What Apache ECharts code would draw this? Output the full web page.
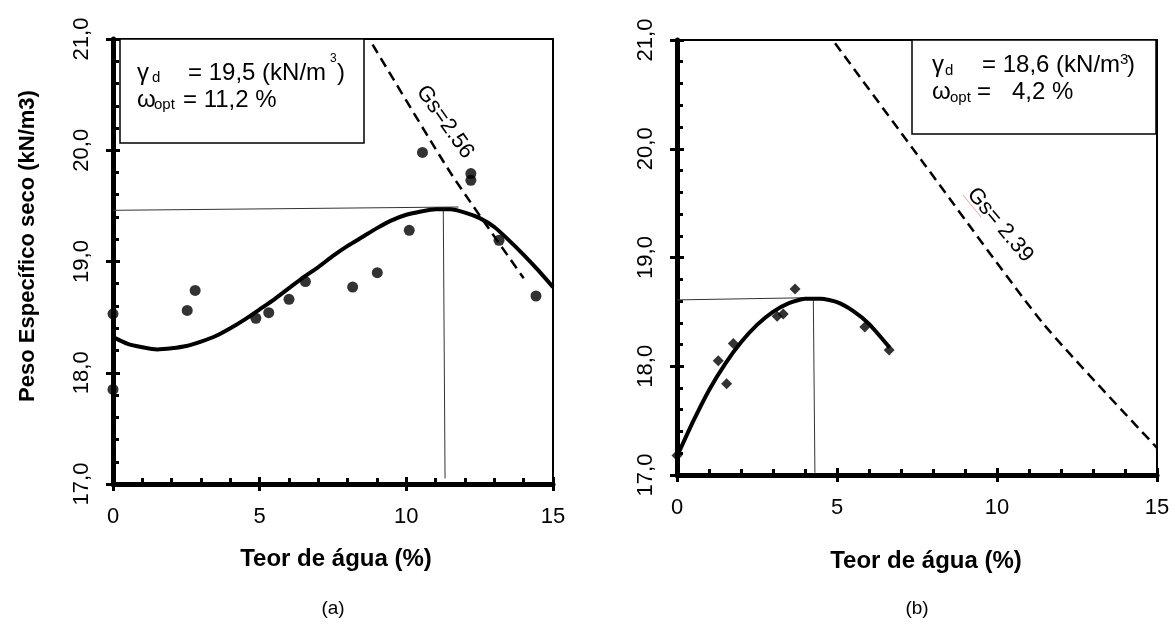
<!DOCTYPE html>
<html><head><meta charset="utf-8">
<script src="https://cdn.jsdelivr.net/npm/echarts@6/dist/echarts.min.js"></script>
<style>html,body{margin:0;padding:0;background:#fff}#c{width:1174px;height:632px}</style>
</head><body><div id="c"></div>
<script>
// ---- tick labels ----
const xTickLabels = ['0', '5', '10', '15'];
const yTickLabels = ['17,0', '18,0', '19,0', '20,0', '21,0'];

// ---- (a) ----
const ptsA_w  = [0, 0, 2.53, 2.80, 4.87, 5.31, 6.00, 6.56, 8.17, 9.01, 10.10, 10.55, 12.20, 12.20, 13.16, 14.42];
const ptsA_gd = [18.53, 17.85, 18.56, 18.74, 18.49, 18.54, 18.66, 18.82, 18.77, 18.90, 19.28, 19.98, 19.79, 19.73, 19.19, 18.69];
const curveA_w  = [0, 0.5, 1, 1.5, 2, 2.5, 3, 3.5, 4, 4.5, 5, 5.5, 6, 6.5, 7, 7.5, 8, 8.5, 9, 9.5, 10, 10.5, 11, 11.5, 12, 12.5, 13, 13.5, 14, 14.5, 15];
const curveA_gd = [18.32, 18.26, 18.23, 18.21, 18.22, 18.24, 18.28, 18.33, 18.40, 18.48, 18.57, 18.66, 18.76, 18.86, 18.95, 19.05, 19.14, 19.22, 19.30, 19.37, 19.42, 19.45, 19.47, 19.47, 19.44, 19.39, 19.31, 19.19, 19.06, 18.92, 18.77];
const gsA_w  = [8.85, 11.5, 14.0];
const gsA_gd = [20.95, 19.80, 18.85];
const hA_w = [0, 11.78], hA_gd = [19.46, 19.49];
const vA_w = [11.26, 11.32], vA_gd = [19.47, 17.05];

// ---- (b) ----
const ptsB_w  = [0, 1.29, 1.55, 1.76, 3.13, 3.32, 3.69, 5.87, 6.63];
const ptsB_gd = [17.18, 18.05, 17.84, 18.21, 18.46, 18.48, 18.71, 18.36, 18.15];
const curveB_w  = [0, 0.5, 1, 1.5, 2, 2.5, 3, 3.5, 4, 4.5, 5, 5.5, 6, 6.65];
const curveB_gd = [17.17, 17.49, 17.78, 18.02, 18.22, 18.38, 18.50, 18.58, 18.62, 18.62, 18.59, 18.51, 18.39, 18.17];
const gsB_w  = [4.94, 7.70, 11.45, 15.0];
const gsB_gd = [20.97, 19.87, 18.39, 17.25];
const hB_w = [0, 4.05], hB_gd = [18.61, 18.63];
const vB_w = [4.26, 4.31], vB_gd = [18.63, 17.02];

const FONT = '"Liberation Sans", Arial, sans-serif';
const pairs = (xs, ys) => xs.map((x, i) => [x, ys[i]]);
const tickStyle = { color: '#000', width: 3 };

function mainX(g) {
  return { type: 'value', gridIndex: g, min: 0, max: 15, interval: 5, position: 'bottom',
    axisLine: { show: true, onZero: false, lineStyle: { color: '#000', width: 5 } },
    axisTick: { show: true, inside: true, length: 7, lineStyle: tickStyle },
    minorTick: { show: true, splitNumber: 5, length: 6, lineStyle: tickStyle },
    splitLine: { show: false }, minorSplitLine: { show: false },
    axisLabel: { margin: 22, fontSize: 22, fontFamily: FONT, color: '#000',
      formatter: v => xTickLabels[Math.round(v / 5)] } };
}
function overX(g) {
  return { type: 'value', gridIndex: g, min: 0, max: 15, interval: 5, position: 'bottom',
    axisLine: { show: false }, axisTick: { show: true, inside: false, length: 7, lineStyle: tickStyle },
    axisLabel: { show: false }, splitLine: { show: false } };
}
function mainY(g) {
  return { type: 'value', gridIndex: g, min: 17, max: 21, interval: 1, position: 'left',
    axisLine: { show: true, onZero: false, lineStyle: { color: '#000', width: 5 } },
    axisTick: { show: true, inside: true, length: 7, lineStyle: tickStyle },
    minorTick: { show: true, splitNumber: 5, length: 6, lineStyle: tickStyle },
    splitLine: { show: false }, minorSplitLine: { show: false },
    axisLabel: { margin: 20, rotate: 90, fontSize: 22, fontFamily: FONT, color: '#000',
      formatter: v => yTickLabels[Math.round(v - 17)] } };
}
function overY(g) {
  return { type: 'value', gridIndex: g, min: 17, max: 21, interval: 1, position: 'left',
    axisLine: { show: false }, axisTick: { show: true, inside: false, length: 7, lineStyle: tickStyle },
    axisLabel: { show: false }, splitLine: { show: false } };
}

function lineSeries(ax, xs, ys, style, smooth) {
  return { type: 'line', xAxisIndex: ax, yAxisIndex: ax, data: pairs(xs, ys), symbol: 'none',
    smooth: smooth ? 0.2 : false, lineStyle: style, silent: true, clip: true };
}

function txt(x, y, text, font, opts) {
  opts = opts || {};
  return { type: 'text', x: x, y: y, rotation: opts.rotation || 0, z: 100,
    style: { text: text, font: font, fill: opts.fill || '#000',
      textAlign: opts.align || 'left', align: opts.align || 'left',
      textVerticalAlign: 'middle', verticalAlign: 'middle' } };
}
const F24 = '24px ' + FONT, F15 = '15px ' + FONT, F12 = '12px ' + FONT;

const option = {
  animation: false,
  backgroundColor: '#fff',
  grid: [
    { left: 113, top: 39, width: 440, height: 445, show: true, borderColor: '#000', borderWidth: 2, backgroundColor: 'transparent' },
    { left: 677, top: 40, width: 480, height: 435, show: true, borderColor: '#000', borderWidth: 2, backgroundColor: 'transparent' }
  ],
  xAxis: [mainX(0), overX(0), mainX(1), overX(1)],
  yAxis: [mainY(0), overY(0), mainY(1), overY(1)],
  series: [
    lineSeries(0, hA_w, hA_gd, { color: '#333', width: 1 }),
    lineSeries(0, vA_w, vA_gd, { color: '#333', width: 1 }),
    lineSeries(0, gsA_w, gsA_gd, { color: '#000', width: 2.5, type: [10, 6] }, true),
    lineSeries(0, curveA_w, curveA_gd, { color: '#000', width: 4 }, true),
    { type: 'scatter', xAxisIndex: 0, yAxisIndex: 0, data: pairs(ptsA_w, ptsA_gd), symbol: 'circle',
      symbolSize: 11, itemStyle: { color: '#000' }, silent: true, clip: false },

    lineSeries(2, hB_w, hB_gd, { color: '#333', width: 1 }),
    lineSeries(2, vB_w, vB_gd, { color: '#333', width: 1 }),
    lineSeries(2, gsB_w, gsB_gd, { color: '#000', width: 2.5, type: [10, 6] }, true),
    lineSeries(2, curveB_w, curveB_gd, { color: '#000', width: 4 }, true),
    { type: 'scatter', xAxisIndex: 2, yAxisIndex: 2, data: pairs(ptsB_w, ptsB_gd), symbol: 'diamond',
      symbolSize: 11, itemStyle: { color: '#000' }, silent: true, clip: false }
  ],
  graphic: [
    // legend boxes
    { type: 'rect', z: 90, shape: { x: 120, y: 39, width: 244, height: 104 },
      style: { fill: '#fff', stroke: '#000', lineWidth: 1.5 } },
    { type: 'rect', z: 90, shape: { x: 912, y: 40, width: 244, height: 94 },
      style: { fill: '#fff', stroke: '#000', lineWidth: 1.5 } },
    // box (a)
    txt(137, 73, 'γ', F24),
    txt(152, 78, 'd', F15),
    txt(188, 73, '= 19,5 (kN/m', F24),
    txt(330, 59, '3', F12),
    txt(337, 73, ')', F24),
    txt(137, 100, 'ω', F24),
    txt(154, 105, 'opt', F15),
    txt(183, 100, '= 11,2 %', F24),
    // box (b)
    txt(932, 65, 'γ', F24),
    txt(945, 71, 'd', F15),
    txt(982, 65, '= 18,6 (kN/m', F24),
    txt(1120, 60, '3', '15px ' + FONT),
    txt(1127, 65, ')', F24),
    txt(932, 92, 'ω', F24),
    txt(950, 98, 'opt', F15),
    txt(977, 92, '=', F24),
    txt(1012, 92, '4,2 %', F24),
    // Gs labels
    txt(445, 122, 'Gs=2.56', '22px ' + FONT, { align: 'center', rotation: -55 * Math.PI / 180 }),
    txt(1000, 225, 'Gs= 2.39', '22px ' + FONT, { align: 'center', rotation: -50 * Math.PI / 180 }),
    { type: 'line', z: 99, shape: { x1: 963, y1: 195, x2: 981, y2: 217 }, style: { stroke: '#f4a0a0', lineWidth: 1 } },
    // axis titles
    txt(28, 246, 'Peso Específico seco (kN/m3)', 'bold 22px ' + FONT, { align: 'center', rotation: Math.PI / 2 }),
    txt(336, 559, 'Teor de água (%)', 'bold 24px ' + FONT, { align: 'center' }),
    txt(926, 561, 'Teor de água (%)', 'bold 24px ' + FONT, { align: 'center' }),
    // panel labels
    txt(333, 609, '(a)', '19px ' + FONT, { align: 'center' }),
    txt(917, 609, '(b)', '19px ' + FONT, { align: 'center' })
  ]
};

const chart = echarts.init(document.getElementById('c'), null, { renderer: 'canvas' });
chart.setOption(option);
</script>
</body></html>
